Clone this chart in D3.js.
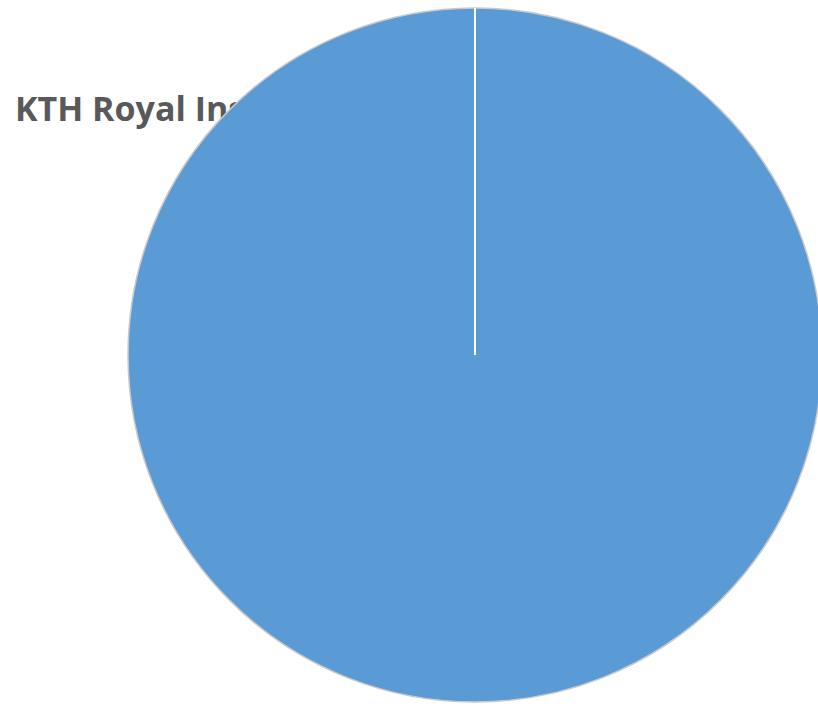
<!DOCTYPE html>
<html>
<head>
<meta charset="utf-8">
<script src="https://d3js.org/d3.v7.min.js"></script>
<style>
  * { margin: 0; padding: 0; }
  body { background: #fff; overflow: hidden; }
</style>
</head>
<body>
<div id="chart"></div>
<script>
// chart data
const title = "KTH Royal Institute of Technology";
const categories = ["KTH Royal Institute of Technology"];
const values = [100];
const colors = ["#5B9BD5"];

const w = 818, h = 704;
const cx = 475, cy = 355, r = 347;

const svg = d3.select("#chart").append("svg")
  .attr("width", w)
  .attr("height", h);

// title sits behind the pie
svg.append("text")
  .attr("x", 15)
  .attr("y", 121)
  .attr("font-family", "'Open Sans', sans-serif")
  .attr("font-weight", "bold")
  .attr("font-size", 34)
  .attr("fill", "#595959")
  .text(title);

const pie = d3.pie().sort(null)(values);
const arc = d3.arc().innerRadius(0).outerRadius(r);

const g = svg.append("g").attr("transform", `translate(${cx},${cy})`);

g.selectAll("path.slice")
  .data(pie)
  .enter()
  .append("path")
  .attr("class", "slice")
  .attr("d", arc)
  .attr("fill", (d, i) => colors[i])
  .attr("stroke", "#c9c9c9")
  .attr("stroke-width", 1.5);

// white separator at the start of each slice
g.selectAll("line.sep")
  .data(pie)
  .enter()
  .append("line")
  .attr("class", "sep")
  .attr("x1", 0).attr("y1", 0)
  .attr("x2", d => r * Math.sin(d.startAngle))
  .attr("y2", d => -r * Math.cos(d.startAngle))
  .attr("stroke", "#fff")
  .attr("stroke-width", 2);
</script>
</body>
</html>
